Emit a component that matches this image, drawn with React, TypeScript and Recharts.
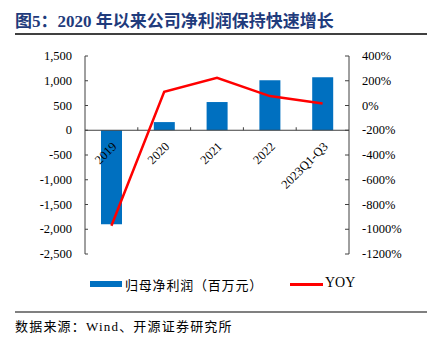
import { ComposedChart, Bar, Line, XAxis, YAxis, ReferenceLine } from 'recharts';

const years = ['2019', '2020', '2021', '2022', '2023Q1-Q3'];
const netProfit = [-1900, 165, 570, 1010, 1070];
const yoy = [-972, 111, 224, 76, 16];
const leftTicks = [-2500, -2000, -1500, -1000, -500, 0, 500, 1000, 1500];
const rightTicks = [-1200, -1000, -800, -600, -400, -200, 0, 200, 400];

const W = 435;
const H = 337;
const TOP = 56;
const BOTTOM = 83;
const LEFT = 35;
const RIGHT = 36;
const Y_AXIS_W = 50;
const X_AXIS_H = 30;
const PLOT_H = H - TOP - BOTTOM;
const BAND = (W - LEFT - RIGHT - 2 * Y_AXIS_W) / years.length;
// 0 on the left axis sits 1500/4000 of the way down
const ZERO_Y = TOP + (PLOT_H * leftTicks[leftTicks.length - 1]) / (leftTicks[leftTicks.length - 1] - leftTicks[0]);

const serif = '"Liberation Serif", "Noto Sans CJK SC", serif';
const cjk = '"Liberation Serif", "Noto Sans CJK SC", sans-serif';

const data = years.map((y, i) => ({ year: y, profit: netProfit[i], yoy: yoy[i] }));

const LeftTick = ({ x, y, payload }: any) => (
  <g>
    <line x1={x + 13} x2={x + 16} y1={y} y2={y} stroke="#404040" />
    <text x={x} y={y} dy={4} textAnchor="end" fontSize={12.5} fontFamily={serif} fill="#000">
      {payload.value.toLocaleString('en-US')}
    </text>
  </g>
);

const RightTick = ({ x, y, payload }: any) => (
  <g>
    <line x1={x - 13} x2={x - 17} y1={y} y2={y} stroke="#404040" />
    <text x={x} y={y} dy={4} textAnchor="start" fontSize={12.5} fontFamily={serif} fill="#000">
      {payload.value}%
    </text>
  </g>
);

const YearTick = ({ x, payload, index }: any) => {
  const tx = x + 6;
  const ty = ZERO_Y + 17;
  return (
    <g>
      {index > 0 && <line x1={x - BAND / 2} x2={x - BAND / 2} y1={ZERO_Y} y2={ZERO_Y - 3} stroke="#404040" />}
      <text x={tx} y={ty} textAnchor="end" fontSize={12.5} fontFamily={serif} fill="#000" transform={`rotate(-45 ${tx} ${ty})`}>
        {payload.value}
      </text>
    </g>
  );
};

export default function App() {
  return (
    <div style={{ position: 'fixed', left: 0, top: 0, width: W, height: H, background: '#fff', fontFamily: cjk }}>
      <div style={{ position: 'absolute', left: 15, top: 7, fontSize: 17, fontWeight: 700, color: '#1f3b7c', whiteSpace: 'nowrap', fontFamily: cjk }}>
        图5：2020 年以来公司净利润保持快速增长
      </div>
      <div style={{ position: 'absolute', left: 15, top: 33, width: 412, height: 1.5, background: '#404040' }} />

      <ComposedChart width={W} height={H} data={data} margin={{ top: TOP, bottom: BOTTOM - X_AXIS_H, left: LEFT, right: RIGHT }}>
        <XAxis dataKey="year" height={X_AXIS_H} axisLine={false} tickLine={false} interval={0} tick={<YearTick />} />
        <YAxis
          yAxisId="left"
          width={Y_AXIS_W}
          domain={[leftTicks[0], leftTicks[leftTicks.length - 1]]}
          ticks={leftTicks}
          interval={0}
          tickSize={0}
          tickMargin={13}
          tickLine={false}
          axisLine={{ stroke: '#404040' }}
          tick={<LeftTick />}
        />
        <YAxis
          yAxisId="right"
          orientation="right"
          width={Y_AXIS_W}
          domain={[rightTicks[0], rightTicks[rightTicks.length - 1]]}
          ticks={rightTicks}
          interval={0}
          tickSize={0}
          tickMargin={13}
          tickLine={false}
          axisLine={{ stroke: '#404040' }}
          tick={<RightTick />}
        />
        <ReferenceLine yAxisId="left" y={0} stroke="#404040" />
        <Bar yAxisId="left" dataKey="profit" fill="#0070C0" barSize={21} isAnimationActive={false} />
        <Line yAxisId="right" dataKey="yoy" type="linear" stroke="#FF0000" strokeWidth={2.5} dot={false} isAnimationActive={false} />
      </ComposedChart>

      <div style={{ position: 'absolute', left: 90, top: 281, width: 32, height: 6, background: '#0070C0' }} />
      <div style={{ position: 'absolute', left: 125, top: 275, fontSize: 13, letterSpacing: 0.8, whiteSpace: 'nowrap' }}>
        归母净利润（百万元）
      </div>
      <div style={{ position: 'absolute', left: 290, top: 283, width: 33, height: 2.5, background: '#FF0000' }} />
      <div style={{ position: 'absolute', left: 325, top: 275, fontSize: 14, fontFamily: serif, whiteSpace: 'nowrap' }}>
        YOY
      </div>

      <div style={{ position: 'absolute', left: 15, top: 311, width: 412, height: 1.5, background: '#808080' }} />
      <div style={{ position: 'absolute', left: 15, top: 316, fontSize: 13, letterSpacing: 1.2, whiteSpace: 'nowrap' }}>
        数据来源：Wind、开源证券研究所
      </div>
    </div>
  );
}
